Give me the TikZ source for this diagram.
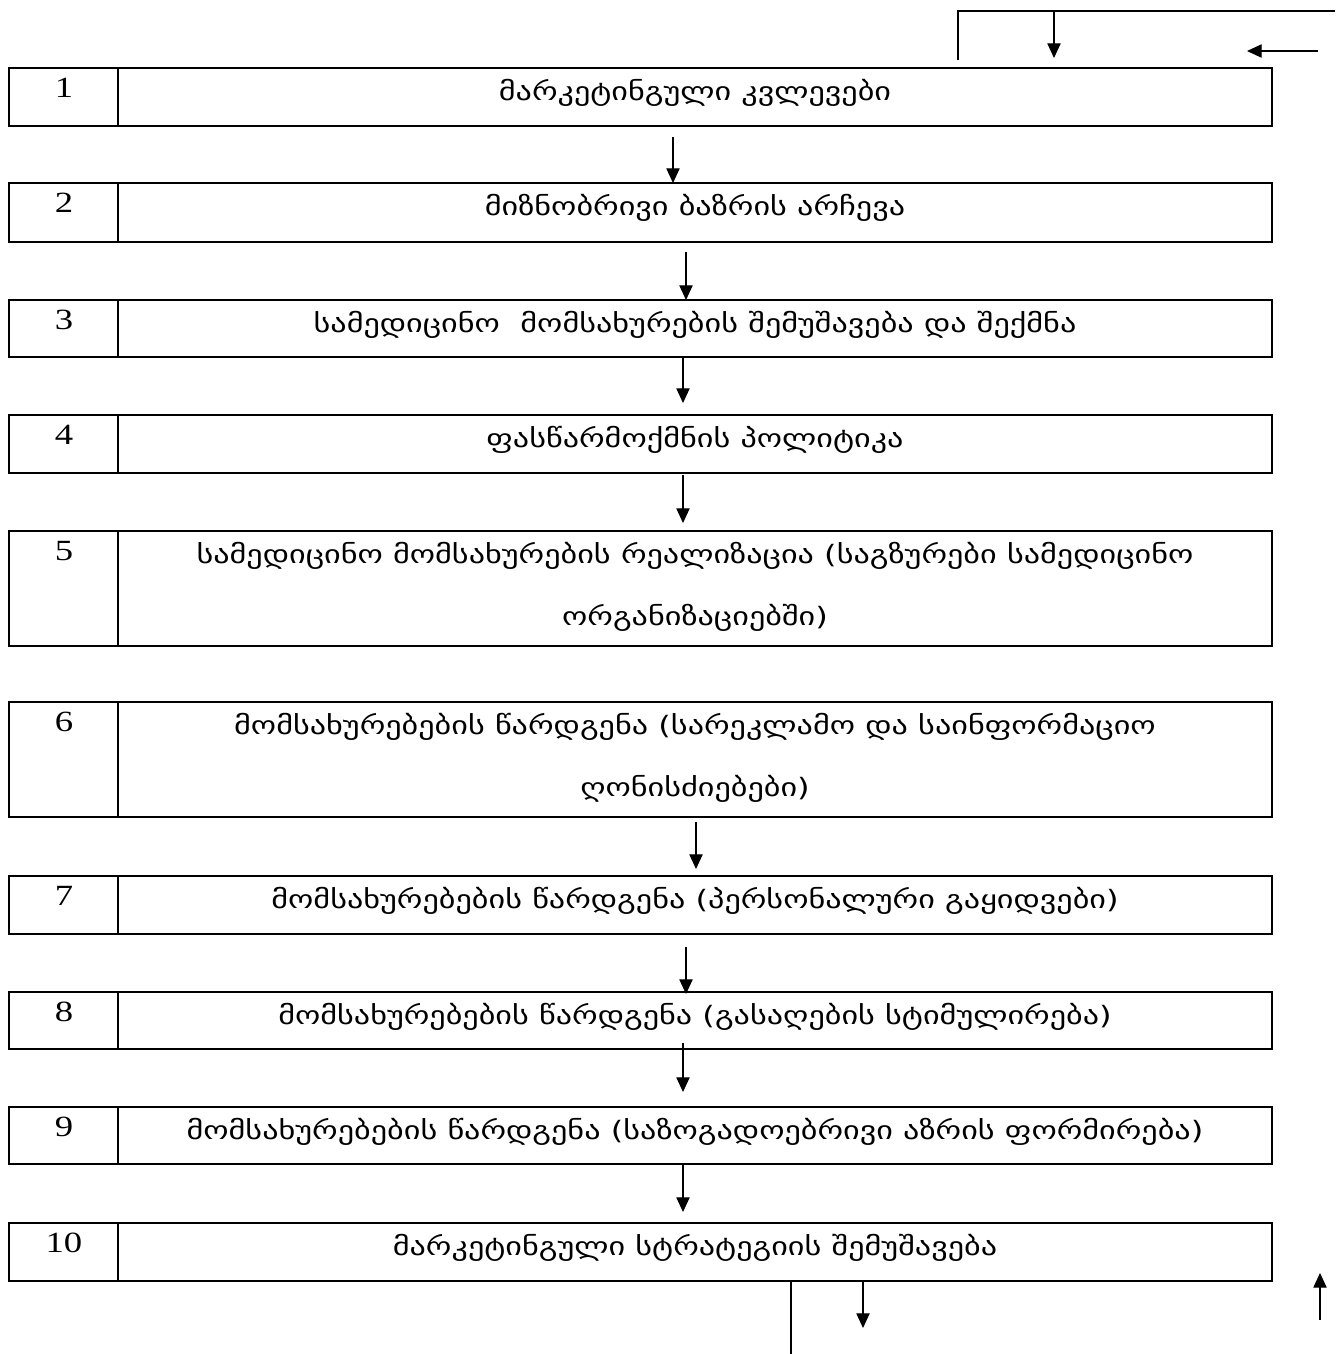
\documentclass[tikz,border=0pt]{standalone}
\usepackage{fontspec}
\setmainfont{Liberation Serif}
\newfontfamily\numfont[FakeStretch=1.25]{Liberation Serif}
\newfontfamily\geo[FakeStretch=1.27]{DejaVu Sans}
\usetikzlibrary{arrows.meta,calc}
\begin{document}
\begin{tikzpicture}[x=0.75pt,y=-0.75pt,
  rowbox/.style={draw,line width=1.7pt,inner sep=0pt,outer sep=0pt,minimum width=947.25pt,anchor=north west},
  divider/.style={line width=1.6pt},
  num/.style={anchor=base,inner sep=0pt,font=\numfont\fontsize{22}{26}\selectfont},
  txt/.style={anchor=base,inner sep=0pt,font=\geo\fontsize{19}{23}\selectfont},
  arr/.style={line width=0.8pt,-{Triangle[length=11pt,width=10pt]}},
  plain/.style={line width=0.8pt}]
\useasboundingbox (0,0) rectangle (1342,1354);
% rows
\node[rowbox,minimum height=43.5pt] (b1) at (9,68) {};
\node[rowbox,minimum height=44.25pt] (b2) at (9,183) {};
\node[rowbox,minimum height=42.75pt] (b3) at (9,300) {};
\node[rowbox,minimum height=43.5pt] (b4) at (9,415) {};
\node[rowbox,minimum height=86.25pt] (b5) at (9,531) {};
\node[rowbox,minimum height=86.25pt] (b6) at (9,702) {};
\node[rowbox,minimum height=43.5pt] (b7) at (9,876) {};
\node[rowbox,minimum height=42.75pt] (b8) at (9,992) {};
\node[rowbox,minimum height=42.75pt] (b9) at (9,1107) {};
\node[rowbox,minimum height=43.5pt] (b10) at (9,1223) {};
% dividers and numbers
\foreach \i in {1,...,10}{
  \draw[divider] ($(b\i.north west)+(109,0)$) -- ($(b\i.south west)+(109,0)$);
  \node[num] (n\i) at ($(b\i.north west)+(55,29)$) {\i};
}
% texts
\node[txt] (t1) at ($(b1.north west)+(686,32)$) {მარკეტინგული კვლევები};
\node[txt] (t2) at ($(b2.north west)+(686,32)$) {მიზნობრივი ბაზრის არჩევა};
\node[txt] (t3) at ($(b3.north west)+(686,32)$) {სამედიცინო~ მომსახურების შემუშავება და შექმნა};
\node[txt] (t4) at ($(b4.north west)+(686,32)$) {ფასწარმოქმნის პოლიტიკა};
\node[txt] (t5) at ($(b5.north west)+(686,32)$) {სამედიცინო მომსახურების რეალიზაცია (საგზურები სამედიცინო};
\node[txt] (t5b) at ($(b5.north west)+(686,94)$) {ორგანიზაციებში)};
\node[txt] (t6) at ($(b6.north west)+(686,32)$) {მომსახურებების წარდგენა (სარეკლამო და საინფორმაციო};
\node[txt] (t6b) at ($(b6.north west)+(686,94)$) {ღონისძიებები)};
\node[txt] (t7) at ($(b7.north west)+(686,32)$) {მომსახურებების წარდგენა (პერსონალური გაყიდვები)};
\node[txt] (t8) at ($(b8.north west)+(686,32)$) {მომსახურებების წარდგენა (გასაღების სტიმულირება)};
\node[txt] (t9) at ($(b9.north west)+(686,32)$) {მომსახურებების წარდგენა (საზოგადოებრივი აზრის ფორმირება)};
\node[txt] (t10) at ($(b10.north west)+(686,32)$) {მარკეტინგული სტრატეგიის შემუშავება};
% arrows between rows
\draw[arr] ($(b1.south west)+(664,11)$) -- ($(b2.north west)+(664,0)$);
\draw[arr] ($(b2.south west)+(677,10)$) -- ($(b3.north west)+(677,0)$);
\draw[arr] ($(b3.south west)+(674,0)$) -- ($(b4.north west)+(674,-12)$);
\draw[arr] ($(b4.south west)+(674,2)$) -- ($(b5.north west)+(674,-8)$);
\draw[arr] ($(b6.south west)+(687,5)$) -- ($(b7.north west)+(687,-7)$);
\draw[arr] ($(b7.south west)+(677,13)$) -- ($(b8.north west)+(677,2)$);
\draw[arr] ($(b8.south west)+(674,-6)$) -- ($(b9.north west)+(674,-15)$);
\draw[arr] ($(b9.south west)+(674,-1)$) -- ($(b10.north west)+(674,-11)$);
% bottom fragments
\coordinate (lb) at (791,1354);
\draw[plain] ($(b10.south west)+(782,0)$) -- (lb);
\coordinate (db) at (863,1328);
\draw[arr] ($(b10.south west)+(854,0)$) -- (db);
\coordinate (ua) at (1320,1320);
\coordinate (ub) at (1320,1273);
\draw[arr] (ua) -- (ub);
% top fragments
\coordinate (tl0) at (958,60);
\coordinate (tl1) at (958,11);
\coordinate (tl2) at (1335,11);
\draw[plain] (tl0) -- (tl1) -- (tl2);
\coordinate (da) at (1054,11);
\coordinate (dt) at (1054,58);
\draw[arr] (da) -- (dt);
\coordinate (la) at (1318,51);
\coordinate (lt) at (1247,51);
\draw[arr] (la) -- (lt);
\end{tikzpicture}
\end{document}
